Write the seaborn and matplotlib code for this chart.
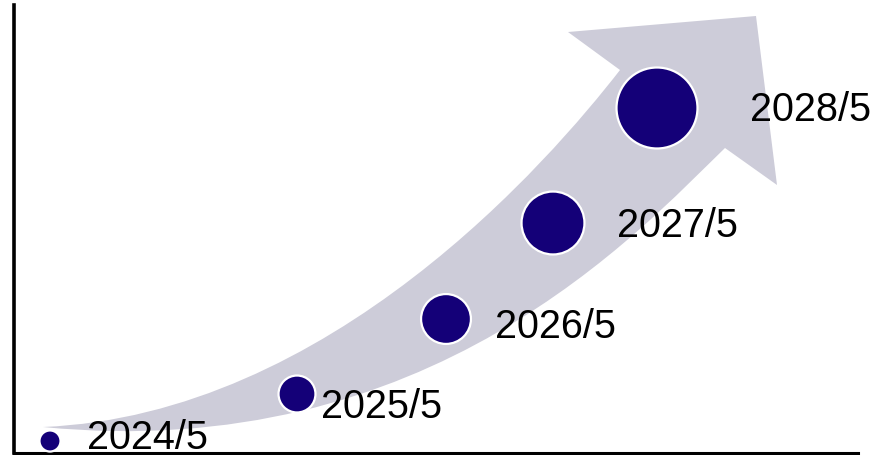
import matplotlib
matplotlib.use("Agg")
import matplotlib.pyplot as plt
from matplotlib.path import Path
from matplotlib.patches import PathPatch
import seaborn as sns
import pandas as pd

# --- data (positions in chart units) ---
labels = ["2024/5", "2025/5", "2026/5", "2027/5", "2028/5"]
dot_x = [36, 283, 432, 539, 643]
dot_y = [12, 59, 134, 230, 345]
dot_size = [230, 707, 1289, 2052, 3399]
label_x = [73, 307, 481, 603, 736]
label_y = [4, 35, 115, 216, 332]

sns.set_theme(style="white")
plt.rcParams['font.family'] = ['Liberation Sans', 'DejaVu Sans']

fig = plt.figure(figsize=(8.74, 4.55), dpi=100)
ax = fig.add_axes([14/874, 2/455, 844/874, 448/455])
ax.set_xlim(0, 844)
ax.set_ylim(0, 448)

# arrow background shape
verts = [
    (29, 26),
    (316, 38), (536, 293), (606, 383),   # upper edge
    (554, 421), (742, 437), (763, 268), (711, 305),  # head
    (626, 223), (416, -12), (29, 26),    # lower edge
    (29, 26),
]
codes = [Path.MOVETO,
         Path.CURVE4, Path.CURVE4, Path.CURVE4,
         Path.LINETO, Path.LINETO, Path.LINETO, Path.LINETO,
         Path.CURVE4, Path.CURVE4, Path.CURVE4,
         Path.CLOSEPOLY]
ax.add_patch(PathPatch(Path(verts, codes), facecolor="#CDCCD9", edgecolor="none",
                       zorder=1, clip_on=False))

df = pd.DataFrame({"x": dot_x, "y": dot_y, "s": dot_size, "label": labels})
sns.scatterplot(data=df, x="x", y="y", size="s",
                sizes={v: v for v in dot_size}, color="#140078",
                edgecolor="white", linewidth=1.6, legend=False, ax=ax, zorder=3,
                clip_on=False)

for lx, ly, t in zip(label_x, label_y, labels):
    ax.text(lx, ly, t, fontsize=28.5, ha="left", va="baseline", color="black", zorder=4)

ax.set_xlabel("")
ax.set_ylabel("")
ax.set_xticks([])
ax.set_yticks([])
for side in ["top", "right"]:
    ax.spines[side].set_visible(False)
ax.spines["left"].set_color("black")
ax.spines["bottom"].set_color("black")
ax.spines["left"].set_linewidth(2.6)
ax.spines["bottom"].set_linewidth(2.2)

fig.savefig("out.png", dpi=100)
